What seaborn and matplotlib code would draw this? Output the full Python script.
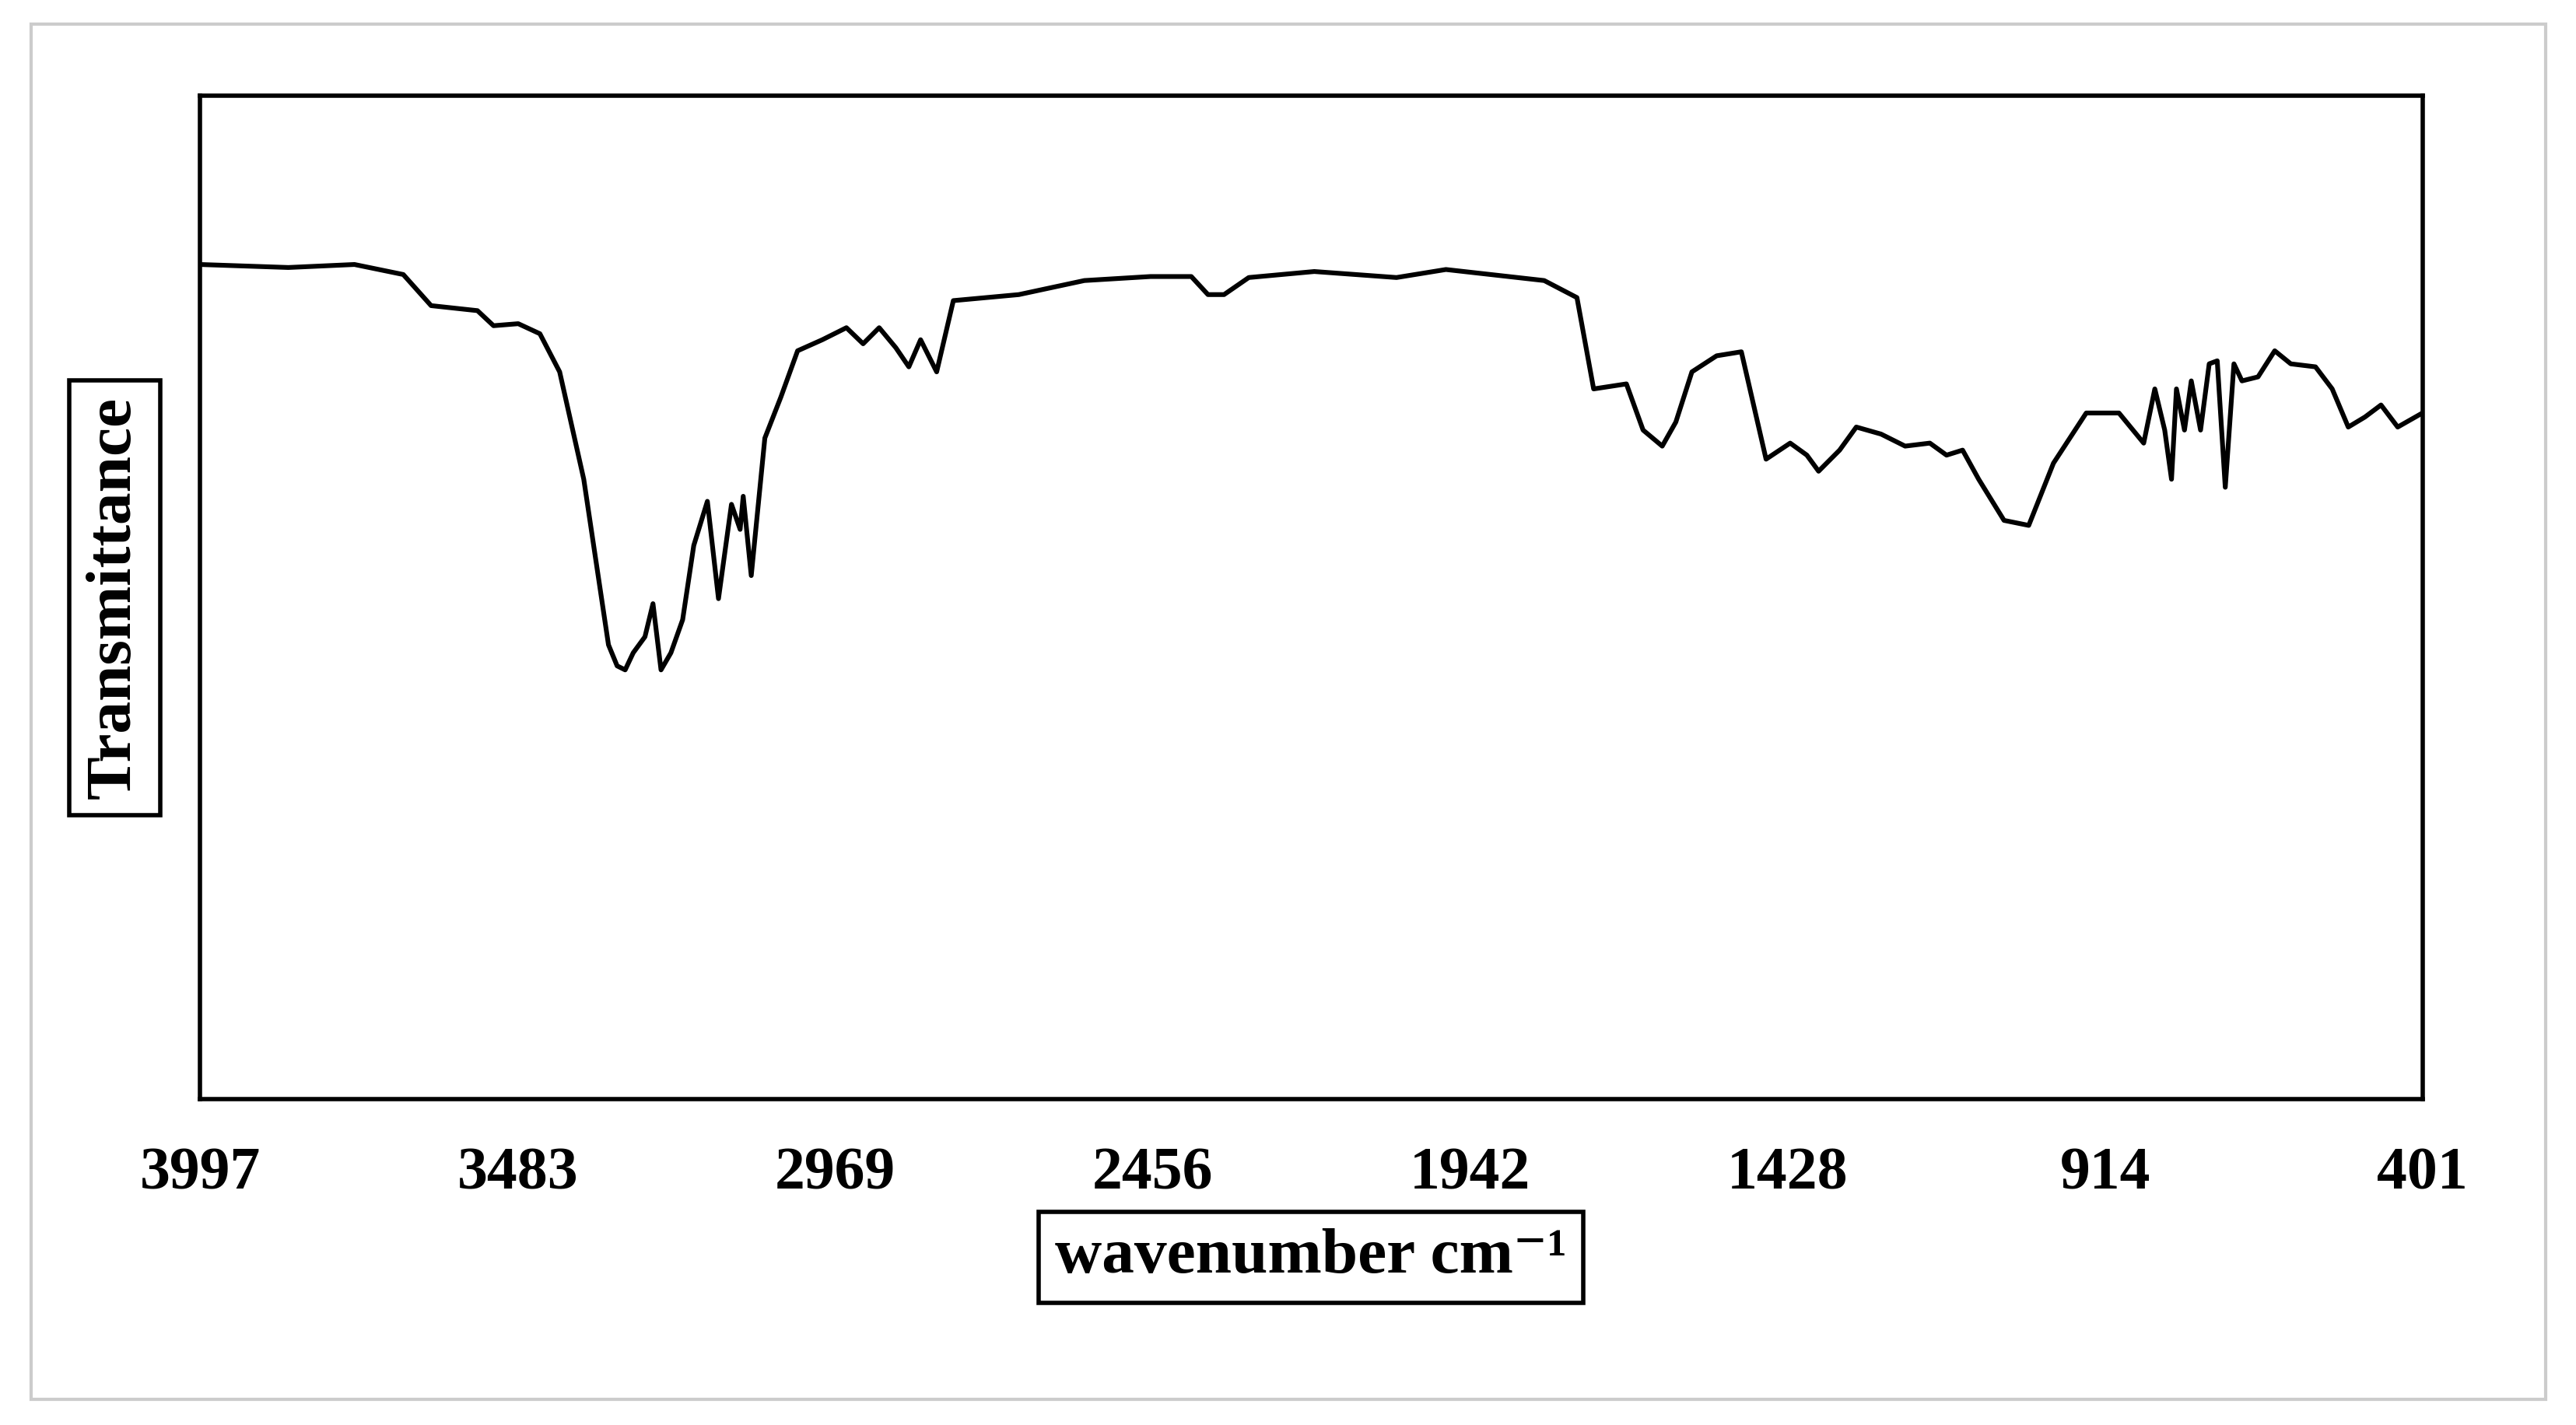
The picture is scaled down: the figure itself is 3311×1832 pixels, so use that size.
import matplotlib
matplotlib.use("Agg")
import matplotlib.pyplot as plt
import seaborn as sns
import pandas as pd
from matplotlib.patches import Rectangle

# IR spectrum values
wavenumber = [3997, 3854, 3747, 3668, 3623, 3548, 3522, 3482, 3447, 3415, 3376, 3336,
              3322, 3309, 3296, 3277, 3264, 3251, 3235, 3216, 3198, 3176, 3158, 3137,
              3123, 3118, 3105, 3083, 3057, 3030, 2990, 2951, 2924, 2898, 2871, 2850,
              2831, 2805, 2778, 2672, 2566, 2459, 2393, 2366, 2340, 2300, 2194, 2061,
              1981, 1822, 1769, 1742, 1689, 1662, 1631, 1609, 1583, 1543, 1503, 1463,
              1424, 1397, 1378, 1344, 1317, 1277, 1238, 1198, 1171, 1145, 1119, 1078,
              1038, 998, 945, 892, 852, 834, 818, 807, 799, 786, 775, 760, 746, 733,
              720, 706, 693, 667, 640, 614, 574, 547, 521, 494, 468, 441, 401]
transmittance = [83.2, 82.9, 83.2, 82.2, 79.1, 78.6, 77.1, 77.3, 76.3, 72.5, 61.8, 45.3,
                 43.2, 42.8, 44.5, 46.1, 49.4, 42.8, 44.5, 47.8, 55.2, 59.6, 49.9, 59.3,
                 56.8, 60.1, 52.2, 65.9, 70.0, 74.6, 75.7, 76.9, 75.3, 76.9, 74.9, 73.0,
                 75.7, 72.5, 79.6, 80.2, 81.6, 82.0, 82.0, 80.2, 80.2, 81.9, 82.5, 81.9,
                 82.7, 81.6, 79.9, 70.8, 71.3, 66.7, 65.1, 67.5, 72.5, 74.1, 74.5, 63.8,
                 65.4, 64.2, 62.6, 64.7, 67.0, 66.3, 65.1, 65.4, 64.2, 64.7, 61.8, 57.7,
                 57.2, 63.4, 68.4, 68.4, 65.4, 70.8, 66.7, 61.8, 70.8, 66.7, 71.6, 66.7,
                 73.3, 73.6, 61.0, 73.3, 71.6, 72.0, 74.6, 73.3, 73.0, 70.8, 67.0, 68.0,
                 69.2, 67.0, 68.4]
tick_labels = [3997, 3483, 2969, 2456, 1942, 1428, 914, 401]

df = pd.DataFrame({"wn": wavenumber, "T": transmittance})

sns.set_theme(style="white")
plt.rcParams["font.family"] = ["Liberation Serif", "DejaVu Serif"]
plt.rcParams["text.color"] = "black"
plt.rcParams["xtick.color"] = "black"
plt.rcParams["axes.labelcolor"] = "black"

fig = plt.figure(figsize=(16.56, 9.16), dpi=200)
fig.patches.append(Rectangle((0.012, 0.018), 0.976, 0.965, transform=fig.transFigure,
                             fill=False, edgecolor="#cccccc", linewidth=1.5))
ax = fig.add_axes([0.0776, 0.2285, 0.8625, 0.7042])
sns.lineplot(data=df, x="wn", y="T", color="black", linewidth=2.2, ax=ax)

ax.set_xlim(3997, 401)
ax.set_ylim(0, 100)
ax.set_xticks(tick_labels)
ax.set_xticklabels([str(t) for t in tick_labels], fontsize=28, fontweight="bold", color="black")
ax.tick_params(axis="x", pad=22, length=0)
ax.set_yticks([])
for s in ax.spines.values():
    s.set_linewidth(2)
    s.set_color("black")

box = dict(boxstyle="square,pad=0.25", facecolor="white", edgecolor="black", linewidth=2)
ax.set_xlabel("wavenumber cm\u207b\u00b9", fontsize=30, fontweight="bold", labelpad=12,
              bbox=box, color="black")
ax.set_ylabel("Transmittance", fontsize=30, fontweight="bold", labelpad=26,
              bbox=box, color="black")

fig.savefig("out.png", dpi=200)
